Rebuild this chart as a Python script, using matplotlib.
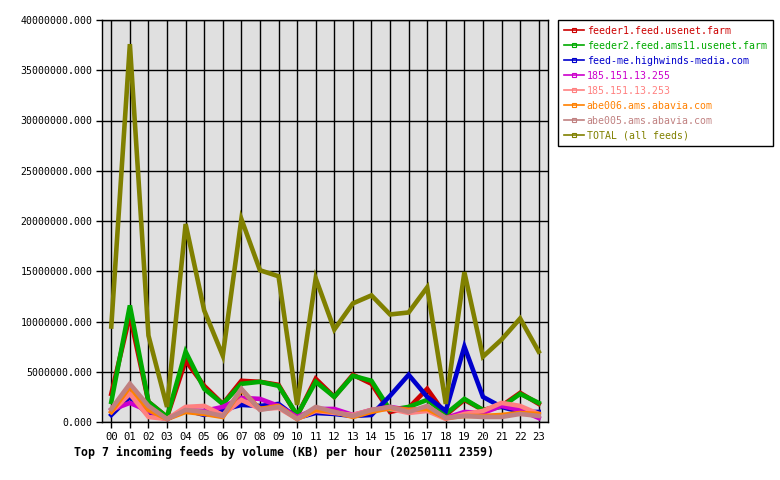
import matplotlib
matplotlib.use("Agg")
import matplotlib.pyplot as plt
from matplotlib.lines import Line2D
from matplotlib.ticker import FormatStrFormatter

# hourly incoming volume (KB)
hours = ["%02d" % h for h in range(24)]

feeder1 = [2.8e6, 10.6e6, 2.0e6, 0.5e6, 6.1e6, 3.6e6, 1.8e6, 4.1e6, 4.0e6, 3.7e6, 0.6e6, 4.3e6,
           2.5e6, 4.7e6, 3.8e6, 1.0e6, 1.4e6, 3.3e6, 0.7e6, 2.2e6, 1.2e6, 1.6e6, 2.9e6, 1.8e6]
feeder2 = [2.0e6, 11.6e6, 2.0e6, 0.5e6, 7.0e6, 3.3e6, 1.8e6, 3.8e6, 4.0e6, 3.6e6, 0.7e6, 4.0e6,
           2.5e6, 4.6e6, 4.1e6, 1.2e6, 1.5e6, 2.2e6, 0.8e6, 2.3e6, 1.2e6, 1.5e6, 2.8e6, 1.9e6]
feedme = [0.7e6, 2.5e6, 0.7e6, 0.3e6, 1.2e6, 0.7e6, 1.2e6, 1.7e6, 1.6e6, 1.8e6, 0.4e6, 0.9e6,
          0.8e6, 0.6e6, 0.7e6, 2.6e6, 4.7e6, 2.5e6, 1.1e6, 7.5e6, 2.5e6, 1.5e6, 1.0e6, 1.0e6]
ip255 = [1.2e6, 1.9e6, 1.1e6, 0.3e6, 1.2e6, 1.1e6, 1.5e6, 2.4e6, 2.3e6, 1.6e6, 0.5e6, 1.3e6,
         1.3e6, 0.7e6, 1.2e6, 1.5e6, 1.2e6, 1.3e6, 0.4e6, 1.0e6, 0.9e6, 1.6e6, 1.2e6, 0.4e6]
ip253 = [1.0e6, 2.8e6, 0.5e6, 0.3e6, 1.5e6, 1.6e6, 0.7e6, 2.2e6, 1.3e6, 1.4e6, 0.3e6, 1.1e6,
         0.9e6, 0.7e6, 1.2e6, 1.3e6, 0.9e6, 1.1e6, 0.3e6, 0.8e6, 1.1e6, 1.9e6, 1.6e6, 0.8e6]
abe006 = [1.0e6, 3.5e6, 1.2e6, 0.3e6, 1.0e6, 0.8e6, 0.5e6, 3.2e6, 1.3e6, 1.6e6, 0.3e6, 1.2e6,
          1.0e6, 0.5e6, 1.0e6, 1.4e6, 1.2e6, 1.3e6, 0.4e6, 0.6e6, 0.6e6, 0.7e6, 0.9e6, 0.8e6]
abe005 = [1.3e6, 3.8e6, 1.6e6, 0.3e6, 1.2e6, 1.0e6, 0.6e6, 3.3e6, 1.2e6, 1.5e6, 0.3e6, 1.5e6,
          1.0e6, 0.6e6, 1.2e6, 1.5e6, 1.0e6, 1.6e6, 0.4e6, 0.6e6, 0.5e6, 0.5e6, 0.8e6, 0.6e6]
total = [9.5e6, 37.6e6, 8.6e6, 1.5e6, 19.7e6, 11.1e6, 6.6e6, 20.2e6, 15.1e6, 14.5e6, 1.7e6, 14.3e6,
         9.2e6, 11.8e6, 12.6e6, 10.7e6, 10.9e6, 13.4e6, 1.8e6, 14.9e6, 6.5e6, 8.2e6, 10.3e6, 7.0e6]

labels = ["feeder1.feed.usenet.farm", "feeder2.feed.ams11.usenet.farm",
          "feed-me.highwinds-media.com", "185.151.13.255", "185.151.13.253",
          "abe006.ams.abavia.com", "abe005.ams.abavia.com", "TOTAL (all feeds)"]
colors = ["#cc0000", "#00aa00", "#0000cc", "#cc00cc", "#ff8080",
          "#ff8000", "#c08080", "#808000"]

series = [feeder1, feeder2, feedme, ip255, ip253, abe006, abe005, total]

MONO = "DejaVu Sans Mono"

fig = plt.figure(figsize=(7.8, 4.8), dpi=100)
ax = fig.add_axes([102 / 780, 58 / 480, 446 / 780, 402 / 480])
ax.set_facecolor("#e0e0e0")

x = list(range(len(hours)))
for vals, col in zip(series, colors):
    ax.plot(x, vals, color=col, linewidth=3.3, solid_joinstyle="miter")

ax.set_xlim(-0.5, 23.5)
ax.set_ylim(0, 40000000)
ax.set_xticks(x)
ax.set_xticklabels(hours)
ax.set_yticks(range(0, 40000001, 5000000))
ax.yaxis.set_major_formatter(FormatStrFormatter("%.3f"))
ax.grid(True, color="black", linewidth=1.0)
ax.set_axisbelow(True)
for sp in ax.spines.values():
    sp.set_color("black")
    sp.set_linewidth(1.0)
ax.tick_params(axis="both", direction="out", length=4, width=1, colors="black",
               labelsize=7.1, pad=3)
ax.tick_params(axis="x", labelsize=7.6)
for lbl in ax.get_xticklabels() + ax.get_yticklabels():
    lbl.set_family(MONO)

fig.text(74 / 780, 1 - 452 / 480, "Top 7 incoming feeds by volume (KB) per hour (20250111 2359)",
         family=MONO, fontsize=8.4, fontweight="bold", va="center", ha="left")

handles = [Line2D([0], [0], color=c, linewidth=1.2, marker="s", markersize=2.5,
                  markerfacecolor="none", markeredgewidth=0.8) for c in colors]
leg = fig.legend(handles, labels, loc="upper left", bbox_to_anchor=(558 / 780, 1 - 20 / 480),
                 prop={"family": MONO, "size": 7.1}, frameon=True, fancybox=False,
                 edgecolor="black", framealpha=1, handlelength=2.0, handletextpad=0.3,
                 labelspacing=0.5, borderpad=0.6, borderaxespad=0)
leg.get_frame().set_linewidth(1.0)
for txt, c in zip(leg.get_texts(), colors):
    txt.set_color(c)

fig.savefig("out.png", dpi=100)
